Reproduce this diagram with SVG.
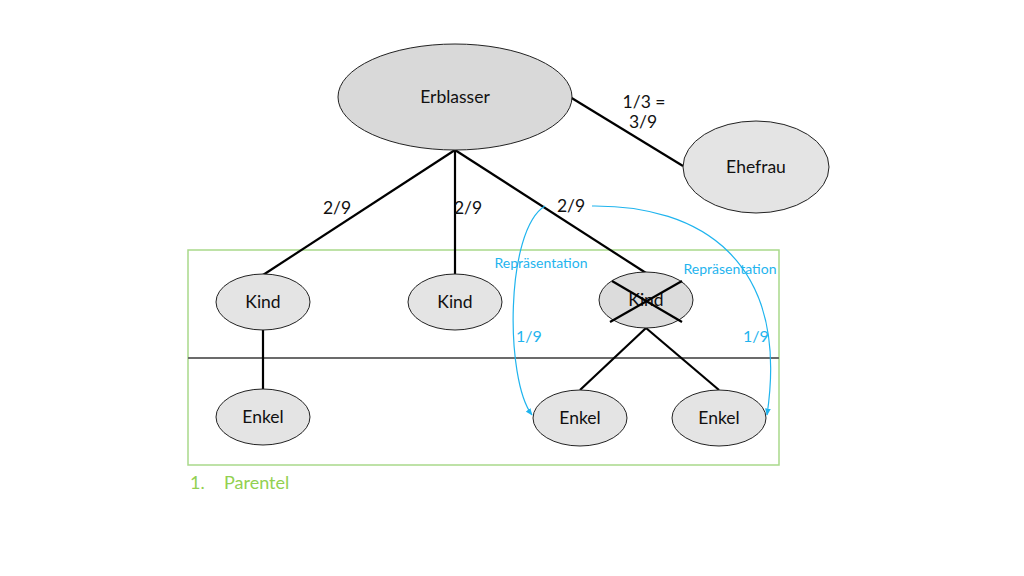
<svg xmlns="http://www.w3.org/2000/svg" width="1024" height="576" viewBox="0 0 1024 576">
<style>
.n{fill:#e4e4e4;stroke:#222;stroke-width:1}
.t{font-family:Lato,"Open Sans",sans-serif;font-size:17.5px;fill:#111;text-anchor:middle}
.e{stroke:#000;stroke-width:2.2;fill:none}
.b{stroke:#1fb4ee;stroke-width:1.2;fill:none}
.bt{font-family:Lato,"Open Sans",sans-serif;fill:#1fb4ee;text-anchor:middle}
</style>
<defs>
<marker id="ah" viewBox="0 0 10 10" refX="9" refY="5" markerWidth="6" markerHeight="6" orient="auto"><path d="M0,1 L10,5 L0,9 Z" fill="#1fb4ee"/></marker>
</defs>
<rect width="1024" height="576" fill="#fff"/>
<rect x="188" y="250" width="591" height="215" fill="none" stroke="#a9d98a" stroke-width="1.5"/>
<line x1="188" y1="358" x2="779" y2="358" stroke="#6b6b6b" stroke-width="2"/>
<text x="190" y="489" font-family="Lato,'Open Sans',sans-serif" font-size="18" fill="#92d050">1.</text>
<text x="224" y="489" font-family="Lato,'Open Sans',sans-serif" font-size="18" fill="#92d050">Parentel</text>
<g id="connectors">
<line class="e" x1="570" y1="97" x2="683" y2="166"/>
<line class="e" x1="455" y1="150" x2="263" y2="275"/>
<line class="e" x1="455" y1="150" x2="455" y2="274"/>
<line class="e" x1="455" y1="150" x2="646" y2="273"/>
<line class="e" x1="263" y1="330" x2="263" y2="390"/>
<line class="e" x1="646" y1="328" x2="580" y2="390"/>
<line class="e" x1="646" y1="328" x2="719" y2="390"/>
<path class="b" d="M545,206 C505,230 505,380 532,415" marker-end="url(#ah)"/>
<path class="b" d="M592,206 C700,205 790,260 767,415" marker-end="url(#ah)"/>
</g>
<g id="labels">
<text class="t" x="337" y="214" font-size="16">2/9</text>
<text class="t" x="468" y="214" font-size="16">2/9</text>
<text class="t" x="571" y="212" font-size="16">2/9</text>
<text class="t" x="644" y="108" font-size="16">1/3 =</text>
<text class="t" x="643" y="128" font-size="16">3/9</text>
<text class="bt" x="541" y="268" font-size="14">Repräsentation</text>
<text class="bt" x="730" y="274" font-size="14">Repräsentation</text>
<text class="bt" x="529" y="342" font-size="16">1/9</text>
<text class="bt" x="756" y="342" font-size="16">1/9</text>
</g>
<g id="erblasser"><ellipse class="n" cx="455" cy="97" rx="117" ry="53" style="fill:#d9d9d9"/><text class="t" x="455" y="103">Erblasser</text></g>
<g id="ehefrau"><ellipse class="n" cx="756" cy="167" rx="73" ry="46"/><text class="t" x="756" y="173">Ehefrau</text></g>
<g id="kind1"><ellipse class="n" cx="263" cy="302" rx="47" ry="28"/><text class="t" x="263" y="308">Kind</text></g>
<g id="kind2"><ellipse class="n" cx="455" cy="302" rx="47" ry="28"/><text class="t" x="455" y="308">Kind</text></g>
<g id="kind3"><ellipse class="n" cx="646" cy="300" rx="47" ry="28" style="fill:#dcdcdc"/><text class="t" x="646" y="306">Kind</text>
<line class="e" x1="612" y1="281" x2="682" y2="322"/><line class="e" x1="682" y1="281" x2="610" y2="322"/></g>
<g id="enkel1"><ellipse class="n" cx="263" cy="417" rx="47" ry="28"/><text class="t" x="263" y="423">Enkel</text></g>
<g id="enkel2"><ellipse class="n" cx="580" cy="418" rx="47" ry="28"/><text class="t" x="580" y="424">Enkel</text></g>
<g id="enkel3"><ellipse class="n" cx="719" cy="418" rx="47" ry="28"/><text class="t" x="719" y="424">Enkel</text></g>
</svg>
